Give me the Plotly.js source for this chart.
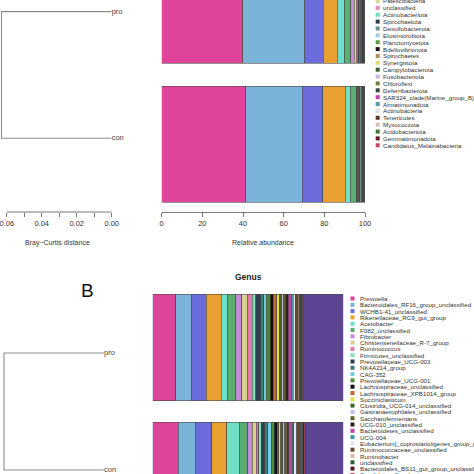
<!DOCTYPE html>
<html><head><meta charset="utf-8">
<script src="https://cdn.plot.ly/plotly-3.0.1.min.js"></script>
<style>html,body{margin:0;padding:0;background:#fff}#chart{width:474px;height:474px}</style>
</head><body><div id="chart"></div>
<script>
// ---------- DATA ----------
const samples = ['con', 'pro'];

const phylumNames = ['Bacteroidota','Firmicutes','Verrucomicrobiota','Proteobacteria','Fibrobacterota','Cyanobacteria','Euryarchaeota',
  'Patescibacteria','unclassified','Actinobacteriota','Spirochaetota','Desulfobacterota','Elusimicrobiota','Planctomycetota',
  'Bdellovibrionota','Spirochaetes','Synergistota','Campylobacterota','Fusobacteriota','Chloroflexi','Deferribacterota',
  'SAR324_clade(Marine_group_B)','Armatimonadota','Actinobacteria','Tenericutes','Myxococcota','Acidobacteriota',
  'Gemmatimonadota','Candidatus_Melainabacteria'];
const phylumColors = ['#e0449a','#7ab2d8','#6b6bdb','#e8a030','#6ee0c8','#5aae72','#c888dc',
  '#d8dc98','#e890b0','#70dcc0','#2f3f4f','#6a9488','#a8cce8','#5e9a3e',
  '#1a1010','#b88a58','#d8e070','#3a5e34','#c8b8e8','#7a7a40','#404040',
  '#c040b0','#4a9aa8','#e0e0e0','#5a3a2a','#d8c0b8','#3a7a3a','#6a1a2a','#d04060'];
const phylumCon = [41.3,27.9,10.0,11.0,2.5,3.0,0.3,0.2,0.3,0.4,0.5,1.0,0.3,0.2,0.5,
  0.1,0.1,0.08,0.06,0.05,0.04,0.03,0.03,0.02,0.02,0.02,0.01,0.01,0.01];
const phylumPro = [39.8,30.6,9.0,7.0,3.7,3.0,1.5,1.0,0.6,0.5,0.5,0.8,0.3,0.3,0.6,
  0.1,0.1,0.08,0.06,0.05,0.04,0.03,0.03,0.02,0.02,0.02,0.01,0.01,0.01];

const genusNames = ['Prevotella','Bacteroidales_RF16_group_unclassified','WCHB1-41_unclassified','Rikenellaceae_RC9_gut_group',
  'Acetobacter','F082_unclassified','Fibrobacter','Christensenellaceae_R-7_group','Ruminococcus','Firmicutes_unclassified',
  'Prevotellaceae_UCG-003','NK4A214_group','CAG-352','Prevotellaceae_UCG-001','Lachnospiraceae_unclassified',
  'Lachnospiraceae_XPB1014_group','Succiniclasticum','Clostridia_UCG-014_unclassified','Gastranaerophilales_unclassified',
  'Saccharofermentans','UCG-010_unclassified','Bacteroidetes_unclassified','UCG-004','Eubacterium]_coprostanoligenes_group_unclassified',
  'Ruminococcaceae_unclassified','Ruminobacter','unclassified','Bacteroidales_BS11_gut_group_unclassified',
  'Candidatus_Saccharimonas','Butyrivibrio','Others'];
const genusColors = ['#e0449a','#7ab2d8','#6b6bdb','#e8a030','#6ee0c8','#5aae72','#c888dc','#d8d090','#e07aa8','#80e0b8',
  '#2f3f4f','#3a7a78','#78cce0','#4a8a3a','#111111','#c06a30','#e0e040','#3a6a30','#c8b8e8','#6a5a30',
  '#2a2020','#c040a8','#3a9aa0','#e4e4ec','#6a4a2a','#d8b8a8','#2e5e2e','#5a1a20','#d04060','#a0a0a0','#5e4494'];
const genusCon = [13.4,8.8,8.8,7.9,6.5,4.4,2.3,2.3,1.2,1.4,1.7,1.7,1.8,1.7,1.4,0.9,0.9,1.2,0.9,1.4,0.9,1.7,0.9,1.4,2.1,0.5,0.7,0.7,0.5,0.4,19.5];
const genusPro = [12.1,8.4,7.5,7.9,3.3,4.4,3.1,2.9,2.6,1.8,2.6,1.7,1.4,2.1,1.4,1.8,1.4,1.3,0.8,1.3,1.4,1.5,1.0,1.2,1.5,0.5,0.7,0.7,0.3,0.3,21.1];

// merge heights of the two-leaf dendrograms (Bray-Curtis distance)
const phylumMergeHeight = 0.063;
const genusMergeHeight = 0.12;

const relTicks = [0,20,40,60,80,100];
const distTicks = [0,0.01,0.02,0.03,0.04,0.05,0.06];
const distTickText = ['0.00','','0.02','','0.04','','0.06'];

// ---------- LAYOUT HELPERS ----------
const W = 474, H = 474;
const fx = p => p / W;
const fy = p => 1 - p / H;
const FONT = 'Liberation Sans, Arial, sans-serif';
const AX = '#555';

const traces = [];
phylumNames.forEach((n, i) => {
  traces.push({type:'bar', orientation:'h', name:n, x:[phylumCon[i], phylumPro[i]], y:[0,1],
    xaxis:'x', yaxis:'y', marker:{color:phylumColors[i], line:{color:'#4a4a4a', width:0.6}},
    showlegend:false, hoverinfo:'skip'});
});
genusNames.forEach((n, i) => {
  traces.push({type:'bar', orientation:'h', name:n, x:[genusCon[i], genusPro[i]], y:[0,1],
    xaxis:'x3', yaxis:'y3', marker:{color:genusColors[i], line:{color:'#4a4a4a', width:0.6}},
    showlegend:false, hoverinfo:'skip'});
});
function dendro(h, xa, ya) {
  traces.push({type:'scatter', mode:'lines', x:[0, h, h, 0], y:[1, 1, 0, 0], xaxis:xa, yaxis:ya,
    line:{color:'#8c8c8c', width:1.1}, showlegend:false, hoverinfo:'skip'});
  traces.push({type:'scatter', mode:'text', x:[0, 0], y:[0, 1], text:samples, textposition:'middle right',
    textfont:{family:FONT, size:7.5, color:'#444'}, cliponaxis:false, xaxis:xa, yaxis:ya,
    showlegend:false, hoverinfo:'skip'});
}
dendro(phylumMergeHeight, 'x2', 'y2');
dendro(genusMergeHeight, 'x4', 'y4');

const annotations = [];
const shapes = [];
function legend(names, colors, firstY, step, firstIdx, swX, txX) {
  names.forEach((n, i) => {
    const yp = firstY + (i - firstIdx) * step;
    if (yp < -10 || yp > H + 10) return;
    shapes.push({type:'rect', xref:'paper', yref:'paper', x0:fx(swX - 2), x1:fx(swX + 2),
      y0:fy(yp + 2), y1:fy(yp - 2), fillcolor:colors[i], line:{width:0}});
    annotations.push({xref:'paper', yref:'paper', x:fx(txX), y:fy(yp), xanchor:'left', yanchor:'middle',
      text:n, showarrow:false, borderpad:0, font:{family:FONT, size:6.2, color:'#333'}});
  });
}
legend(phylumNames, phylumColors, 1, 6.87, 7, 377.7, 382);
legend(genusNames, genusColors, 298.5, 6.3, 0, 352.5, 359);

annotations.push({xref:'paper', yref:'paper', x:fx(57), y:fy(243), text:'Bray\u2212Curtis distance', showarrow:false,
  xanchor:'center', yanchor:'middle', font:{family:FONT, size:7, color:'#333'}});
annotations.push({xref:'paper', yref:'paper', x:fx(263.4), y:fy(243), text:'Relative abundance', showarrow:false,
  xanchor:'center', yanchor:'middle', font:{family:FONT, size:7, color:'#333'}});
annotations.push({xref:'paper', yref:'paper', x:fx(248), y:fy(277), text:'<b>Genus</b>', showarrow:false,
  xanchor:'center', yanchor:'middle', font:{family:FONT, size:8.5, color:'#222'}});
annotations.push({xref:'paper', yref:'paper', x:fx(87.5), y:fy(290), text:'B', showarrow:false,
  xanchor:'center', yanchor:'middle', font:{family:FONT, size:19, color:'#111'}});

shapes.push({type:'line', xref:'x2', yref:'paper', x0:distTicks[distTicks.length-1], x1:distTicks[0],
  y0:fy(212), y1:fy(212), line:{color:AX, width:0.8}});

const hidden = {visible:true, showline:false, showgrid:false, zeroline:false, showticklabels:false, ticks:''};
const phyDistRange = phylumMergeHeight / (1 - 1.5 / 111.7);
const genDistRange = genusMergeHeight / (1 - 4 / 104);

const layout = {
  width:W, height:H, margin:{l:0, r:0, t:0, b:0, autoexpand:false},
  paper_bgcolor:'#fff', plot_bgcolor:'rgba(0,0,0,0)',
  barmode:'stack', bargap:0.165,
  font:{family:FONT, color:'#333'},
  xaxis:{domain:[fx(161.7), fx(365)], range:[0,100], anchor:'y', showgrid:false, zeroline:false,
    showline:true, linecolor:AX, linewidth:0.8, ticks:'outside', ticklen:4, tickwidth:0.8, tickcolor:AX,
    tickvals:relTicks, ticklabeloverflow:'allow', tickfont:{family:FONT, size:7.5, color:'#333'}},
  yaxis:{domain:[fy(212), 1], range:[-0.488, 1.038], anchor:'x', ...hidden},
  xaxis2:{domain:[0, fx(111.7)], range:[phyDistRange, 0], anchor:'y2', showgrid:false, zeroline:false,
    showline:false, ticks:'outside', ticklen:4, tickwidth:0.8, tickcolor:AX, ticklabeloverflow:'allow',
    tickvals:distTicks, ticktext:distTickText, tickfont:{family:FONT, size:7.5, color:'#333'}},
  yaxis2:{domain:[fy(212), 1], range:[-0.582, 1.092], anchor:'x2', ...hidden},
  xaxis3:{domain:[fx(152.7), fx(343.3)], range:[0,100], anchor:'y3', ...hidden},
  yaxis3:{domain:[0, fy(282)], range:[0.0117, 1.512], anchor:'x3', ...hidden},
  xaxis4:{domain:[0, fx(104)], range:[genDistRange, 0], anchor:'y4', ...hidden},
  yaxis4:{domain:[0, fy(280)], range:[-0.0342, 1.624], anchor:'x4', ...hidden},
  annotations:annotations, shapes:shapes
};

Plotly.newPlot('chart', traces, layout, {displayModeBar:false, staticPlot:true});
</script></body></html>
